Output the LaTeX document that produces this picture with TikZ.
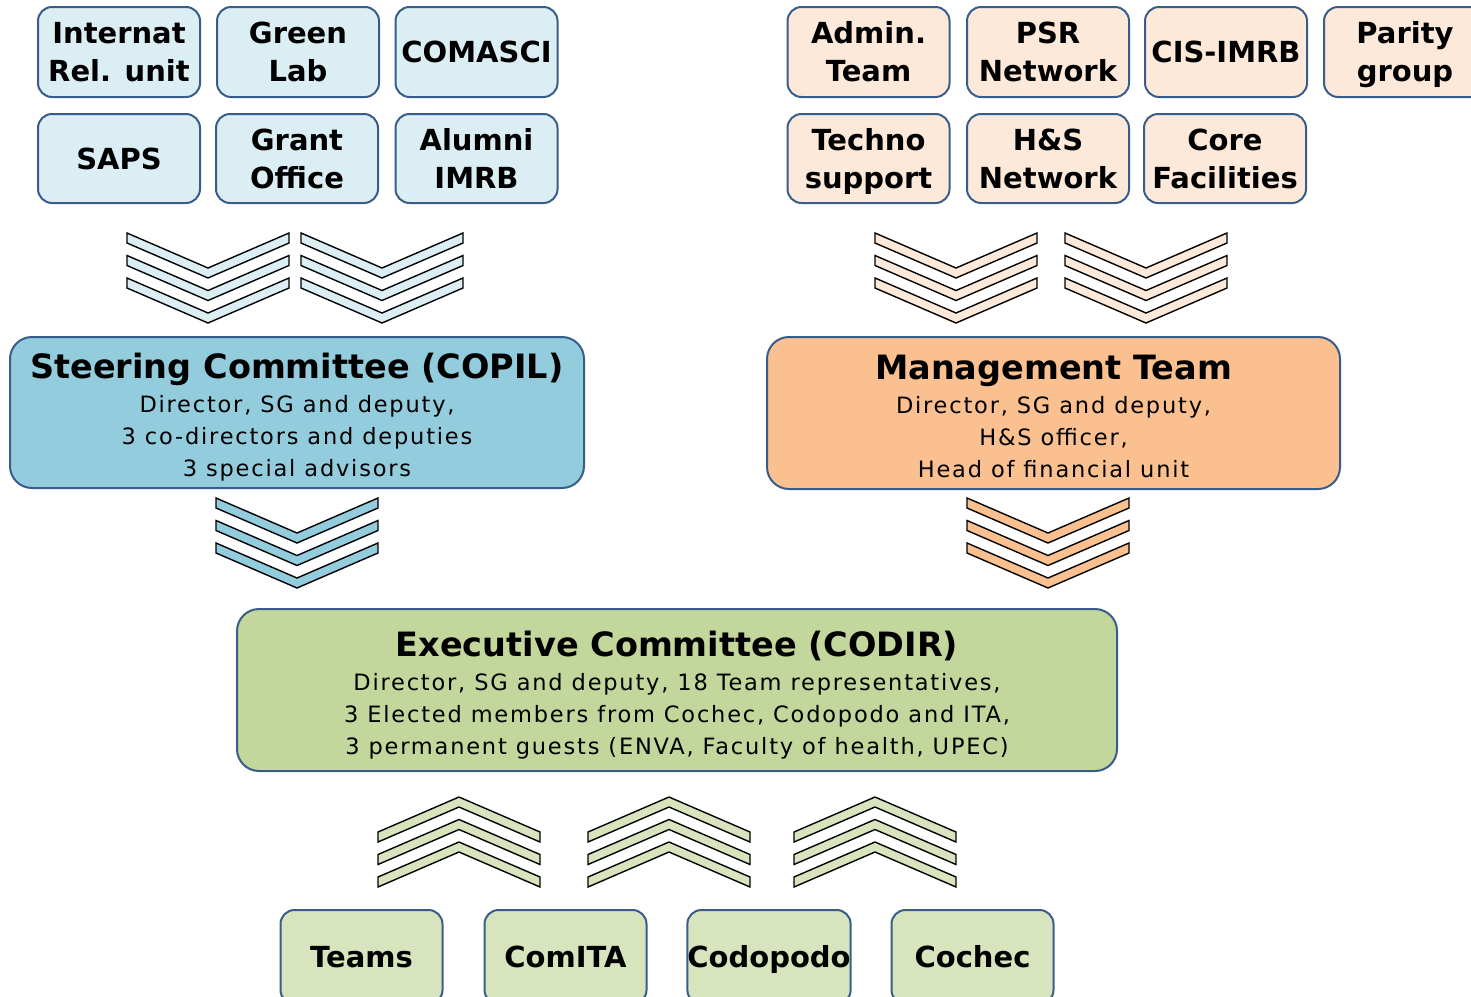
\documentclass[tikz,border=0pt]{standalone}
\usepackage{fontspec}
\setmainfont{DejaVu Sans}
\newfontfamily\bodyfont[LetterSpace=8]{DejaVu Sans}

\definecolor{boxline}{HTML}{385D8A}
\definecolor{bluelight}{HTML}{DBEEF4}
\definecolor{bluemid}{HTML}{93CDDD}
\definecolor{peachlight}{HTML}{FDE9D9}
\definecolor{peachmid}{HTML}{FAC090}
\definecolor{greenlight}{HTML}{D7E4BD}
\definecolor{greenmid}{HTML}{C3D69B}

\tikzset{
  unitbox/.style={draw=boxline, line width=2pt, rounded corners=14pt, inner sep=0pt,
    minimum width=162pt, minimum height=90pt, align=center,
    text height=59pt, text depth=0pt,
    font=\fontsize{29}{38}\selectfont\bfseries},
  oneline/.style={text height=21pt},
  groupbox/.style={unitbox, oneline, fill=greenlight, minimum height=94pt},
  commbox/.style={draw=boxline, line width=2pt, rounded corners=22pt, inner sep=0pt,
    align=center, text height=134pt, text depth=6pt,
    font=\bodyfont\fontsize{22.5}{32}\selectfont},
  chev/.style={draw=black, line width=1.4pt, line join=miter},
  chevdown/.pic={
    \foreach \k in {0,1,2}
      \filldraw[chev, fill=\chevfill, shift={(0,22.5*\k)}]
        (0,0) -- (81,35) -- (162,0) -- (162,10) -- (81,45) -- (0,10) -- cycle;
  },
  chevup/.pic={
    \foreach \k in {0,1,2}
      \filldraw[chev, fill=\chevfill, shift={(0,22.5*\k)}]
        (0,35) -- (81,0) -- (162,35) -- (162,45) -- (81,10) -- (0,45) -- cycle;
  },
}
\newcommand{\commtitle}[1]{{\normalfont\fontsize{33.5}{38}\selectfont\bfseries #1}\\[2pt]}

\begin{document}
\begin{tikzpicture}[x=1pt,y=-1pt]

\useasboundingbox (0,0) rectangle (1471,996);

% support units of the steering committee
\node[unitbox, fill=bluelight] (internat) at (119,52) {Internat\\Rel. unit};
\node[unitbox, fill=bluelight] (greenlab) at (298,52) {Green\\Lab};
\node[unitbox, fill=bluelight, oneline] (comasci) at (476.5,52) {COMASCI};
\node[unitbox, fill=bluelight, oneline, minimum height=89pt] (saps) at (119,158.5) {SAPS};
\node[unitbox, fill=bluelight, minimum height=89pt] (grant) at (297,158.5) {Grant\\Office};
\node[unitbox, fill=bluelight, minimum height=89pt] (alumni) at (476.5,158.5) {Alumni\\IMRB};

% support units of the management team
\node[unitbox, fill=peachlight] (admin) at (868.5,52) {Admin.\\Team};
\node[unitbox, fill=peachlight] (psr) at (1048,52) {PSR\\Network};
\node[unitbox, fill=peachlight, oneline] (cisimrb) at (1226,52) {CIS-IMRB};
\node[unitbox, fill=peachlight] (parity) at (1405,52) {Parity\\group};
\node[unitbox, fill=peachlight, minimum height=89pt] (techno) at (868.5,158.5) {Techno\\support};
\node[unitbox, fill=peachlight, minimum height=89pt] (hs) at (1048,158.5) {H\&S\\Network};
\node[unitbox, fill=peachlight, minimum height=89pt] (core) at (1225,158.5) {Core\\Facilities};

\def\chevfill{bluelight}
\pic at (127,233) {chevdown};
\pic at (301,233) {chevdown};
\def\chevfill{peachlight}
\pic at (875,233) {chevdown};
\pic at (1065,233) {chevdown};

% committees
\node[commbox, fill=bluemid, minimum width=574pt, minimum height=151pt] (copil) at (297,412.5)
  {\commtitle{Steering Committee (COPIL)}Director, SG and deputy,\\3 co-directors and deputies\\3 special advisors};
\node[commbox, fill=peachmid, minimum width=573pt, minimum height=152pt] (mgmt) at (1053.5,413)
  {\commtitle{Management Team}Director, SG and deputy,\\H\&S officer,\\Head of financial unit};

\def\chevfill{bluemid}
\pic at (216,498) {chevdown};
\def\chevfill{peachmid}
\pic at (967,498) {chevdown};

\node[commbox, fill=greenmid, minimum width=880pt, minimum height=162pt] (codir) at (677,690)
  {\commtitle{Executive Committee (CODIR)}Director, SG and deputy, 18 Team representatives,\\3 Elected members from Cochec, Codopodo and ITA,\\3 permanent guests (ENVA, Faculty of health, UPEC)};

\def\chevfill{greenlight}
\pic at (378,797) {chevup};
\pic at (588,797) {chevup};
\pic at (794,797) {chevup};

% bottom groups
\node[groupbox] (teams) at (361.5,957) {Teams};
\node[groupbox] (comita) at (565.5,957) {ComITA};
\node[groupbox] (codopodo) at (769,957) {Codopodo};
\node[groupbox] (cochec) at (972.5,957) {Cochec};

\end{tikzpicture}
\end{document}
